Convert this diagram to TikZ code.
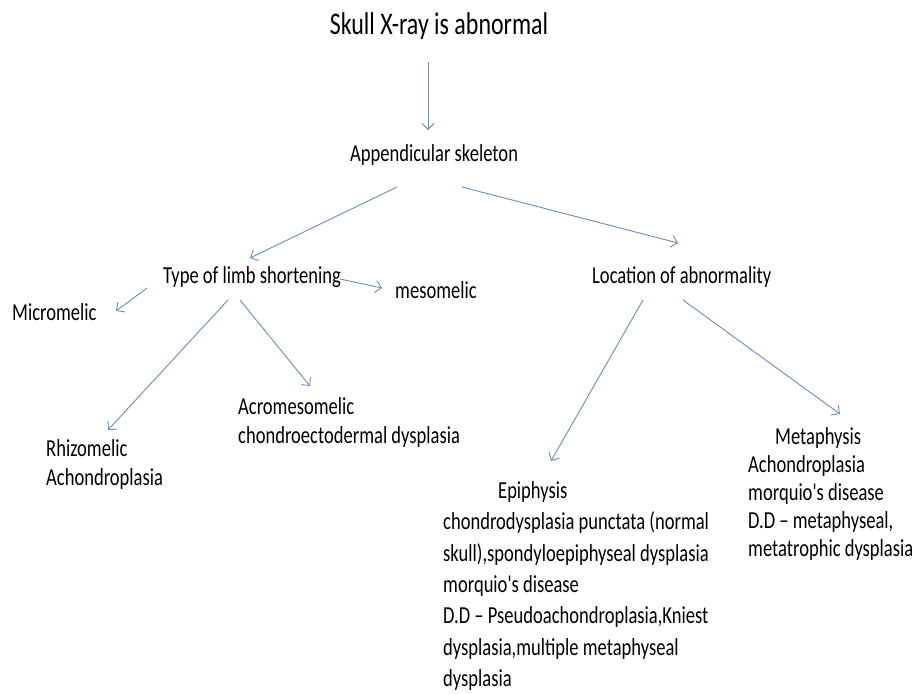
\documentclass[tikz,border=0pt]{standalone}
\usepackage{fontspec}
\setmainfont{Carlito}[FakeStretch=0.76, Ligatures=TeXOff]
\usetikzlibrary{arrows.meta}
\definecolor{arr}{HTML}{6A8DBB}
\tikzset{
  lbl/.style={inner sep=0pt, anchor=west, align=left, font=\fontsize{24.4}{29}\selectfont},
  ttl/.style={inner sep=0pt, font=\fontsize{31.5}{36}\selectfont},
  conn/.style={draw=arr, line width=0.9pt, -{Straight Barb[length=6pt,width=12pt]}}
}
\begin{document}
\begin{tikzpicture}[x=1pt,y=-1pt]
\path[use as bounding box] (0,0) rectangle (920,693);
\node[ttl] (title) at (439,26) {Skull X-ray is abnormal};
\node[lbl] (app) at (350,155) {Appendicular skeleton};
\node[lbl] (type) at (163,277) {Type of limb shortening};
\node[lbl] (meso) at (395,290) {mesomelic};
\node[lbl] (micro) at (12,312) {Micromelic};
\node[lbl] (loc) at (592,277) {Location of abnormality};
\node[lbl] (rhizo) at (46,464) {Rhizomelic\\Achondroplasia};
\node[lbl] (acro) at (238,422.5) {Acromesomelic\\chondroectodermal dysplasia};
\node[lbl, font=\fontsize{24.4}{31.3}\selectfont] (epi) at (443,586) {\hspace*{55pt}Epiphysis\\chondrodysplasia punctata (normal\\skull),spondyloepiphyseal dysplasia\\morquio's disease\\D.D – Pseudoachondroplasia,Kniest\\dysplasia,multiple metaphyseal\\dysplasia};
\node[lbl, font=\fontsize{24.4}{28}\selectfont] (meta) at (748,494) {\hspace*{27pt}Metaphysis\\Achondroplasia\\morquio's disease\\D.D – metaphyseal,\\metatrophic dysplasia};
% connector ends
\coordinate (t0) at (428,62);   \coordinate (h0) at (428,130);
\coordinate (t1) at (397,187);  \coordinate (h1) at (250,258);
\coordinate (t2) at (462,187);  \coordinate (h2) at (678,243);
\coordinate (t3) at (340,279);  \coordinate (h3) at (382,288);
\coordinate (t4) at (147,288);  \coordinate (h4) at (116,311);
\coordinate (t5) at (228,300);  \coordinate (h5) at (108,430);
\coordinate (t6) at (240,300);  \coordinate (h6) at (310,386);
\coordinate (t7) at (643,300);  \coordinate (h7) at (551,461);
\coordinate (t8) at (683,300);  \coordinate (h8) at (840,414);
\draw[conn] (t0) -- (h0);
\draw[conn] (t1) -- (h1);
\draw[conn] (t2) -- (h2);
\draw[conn] (t3) -- (h3);
\draw[conn] (t4) -- (h4);
\draw[conn] (t5) -- (h5);
\draw[conn] (t6) -- (h6);
\draw[conn] (t7) -- (h7);
\draw[conn] (t8) -- (h8);
\end{tikzpicture}
\end{document}
